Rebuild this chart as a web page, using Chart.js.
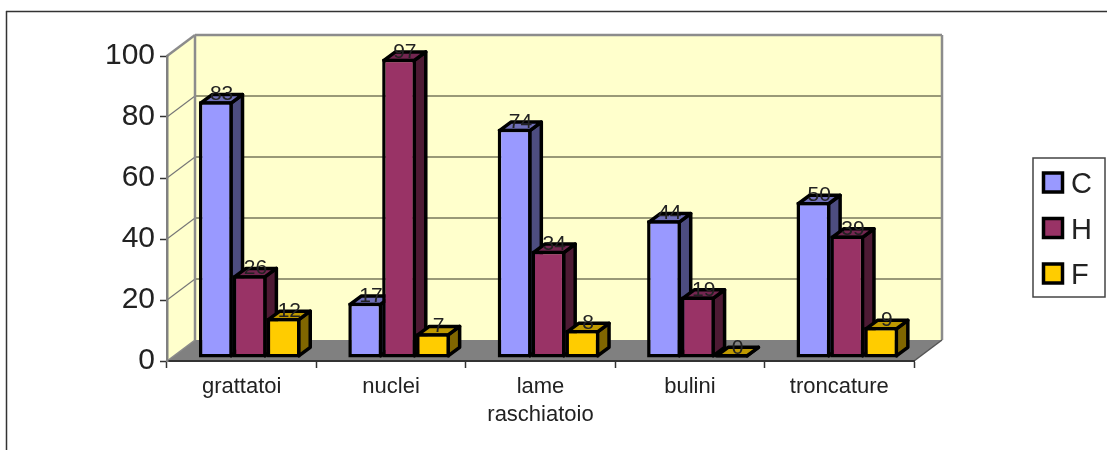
<!DOCTYPE html>
<html lang="it">
<head>
  <meta charset="UTF-8">
  <title>Strumenti C H F</title>
  <style>
    html, body { margin: 0; padding: 0; background: #ffffff; }
    canvas { display: block; }
  </style>
</head>
<body>
  <canvas id="chart" width="1107" height="450"></canvas>

  <script src="https://cdn.jsdelivr.net/npm/chart.js"></script>
  <script>
    const categories = ['grattatoi', 'nuclei', ['lame', 'raschiatoio'], 'bulini', 'troncature'];
    const seriesNames = ['C', 'H', 'F'];
    const valuesC = [83, 17, 74, 44, 50];
    const valuesH = [26, 97, 34, 19, 39];
    const valuesF = [12, 7, 8, 0, 9];
    const yTicks = [0, 20, 40, 60, 80, 100];

    const frontColors = ['#9999ff', '#993366', '#ffcc00'];
    const topColors = ['#6f6fb8', '#732650', '#bf9900'];
    const sideColors = ['#4d4d80', '#4d1a33', '#806600'];

    // depth of the back wall and of one bar, in pixels
    const wall = { dx: 28, dy: -21 };
    const barShift = { dx: 8, dy: -6.5 };
    const barDepth = { dx: 11.5, dy: -8.5 };
    const barLine = 3.5;
    const legendBox = { left: 1033, top: 158, width: 72, height: 139 };
    const legendSwatchTops = [173, 218.5, 264];
    const font = 'Arial, "Liberation Sans", sans-serif';
    const textColor = '#222222';

    function poly(ctx, pts, fill, stroke, lw) {
      ctx.beginPath();
      pts.forEach((p, i) => i ? ctx.lineTo(p[0], p[1]) : ctx.moveTo(p[0], p[1]));
      ctx.closePath();
      if (fill) { ctx.fillStyle = fill; ctx.fill(); }
      if (stroke) { ctx.strokeStyle = stroke; ctx.lineWidth = lw; ctx.lineJoin = 'round'; ctx.stroke(); }
    }

    function line(ctx, x1, y1, x2, y2, color, lw) {
      ctx.beginPath();
      ctx.moveTo(x1, y1);
      ctx.lineTo(x2, y2);
      ctx.strokeStyle = color;
      ctx.lineWidth = lw;
      ctx.stroke();
    }

    // page frame, yellow walls, grey floor, grid lines
    const roomPlugin = {
      id: 'room',
      beforeDraw(chart) {
        const ctx = chart.ctx;
        const a = chart.chartArea;
        const y = chart.scales.y;
        const d = wall;
        ctx.save();

        line(ctx, 6, 11.5, 1107, 11.5, '#333333', 1.5);
        line(ctx, 6.5, 11, 6.5, 450, '#333333', 1.5);

        poly(ctx, [[a.left + d.dx, a.top + d.dy], [a.right + d.dx, a.top + d.dy],
          [a.right + d.dx, a.bottom + d.dy], [a.left + d.dx, a.bottom + d.dy]], '#ffffcc');
        poly(ctx, [[a.left, a.top], [a.left + d.dx, a.top + d.dy],
          [a.left + d.dx, a.bottom + d.dy], [a.left, a.bottom]], '#ffffcc');
        poly(ctx, [[a.left, a.bottom], [a.left + d.dx, a.bottom + d.dy],
          [a.right + d.dx, a.bottom + d.dy], [a.right, a.bottom]], '#808080');

        yTicks.slice(1, -1).forEach(v => {
          const py = y.getPixelForValue(v);
          line(ctx, a.left, py, a.left + d.dx, py + d.dy, '#777777', 1.2);
          line(ctx, a.left + d.dx, py + d.dy, a.right + d.dx, py + d.dy, '#999977', 2);
        });

        const edge = '#8c8c8c';
        line(ctx, a.left, a.top, a.left + d.dx, a.top + d.dy, edge, 2.5);
        line(ctx, a.left + d.dx, a.top + d.dy, a.right + d.dx, a.top + d.dy, edge, 2.5);
        line(ctx, a.right + d.dx, a.top + d.dy, a.right + d.dx, a.bottom + d.dy, edge, 2.5);
        line(ctx, a.left + d.dx, a.top + d.dy, a.left + d.dx, a.bottom + d.dy, edge, 2.5);
        line(ctx, a.left, a.bottom, a.left + d.dx, a.bottom + d.dy, edge, 1.5);
        line(ctx, a.right, a.bottom, a.right + d.dx, a.bottom + d.dy, '#555555', 1.5);
        ctx.restore();
      },
      // boxed legend, the built-in one can't sit this far from the plot nor keep this text gap
      afterDraw(chart) {
        const ctx = chart.ctx;
        const box = legendBox;
        ctx.save();
        ctx.strokeStyle = '#444444';
        ctx.lineWidth = 1.5;
        ctx.strokeRect(box.left, box.top, box.width, box.height);
        ctx.font = '29px ' + font;
        ctx.textBaseline = 'alphabetic';
        chart.data.datasets.forEach((ds, i) => {
          const top = legendSwatchTops[i];
          ctx.fillStyle = ds.backgroundColor;
          ctx.fillRect(box.left + 10.5, top, 19, 19);
          ctx.strokeStyle = '#000000';
          ctx.lineWidth = 3.5;
          ctx.strokeRect(box.left + 10.5, top, 19, 19);
          ctx.fillStyle = textColor;
          ctx.fillText(ds.label, box.left + 38, top + 20);
        });
        ctx.restore();
      }
    };

    // the bars stand in the middle of the room: move them back and give them sides and tops.
    // Sides and tops go first, series by series, so the fronts cover them where they touch.
    const extrudePlugin = {
      id: 'extrude',
      beforeDatasetsDraw(chart) {
        const ctx = chart.ctx;
        const dx = barDepth.dx;
        const dy = barDepth.dy;
        const half = barLine / 2;
        ctx.save();
        ctx.translate(barShift.dx, barShift.dy);
        chart.data.datasets.forEach((ds, i) => {
          chart.getDatasetMeta(i).data.forEach(bar => {
            const p = bar.getProps(['x', 'y', 'base', 'width'], true);
            const l = p.x - p.width / 2 + half;
            const r = p.x + p.width / 2 - half;
            const b = p.base - half;
            const t = Math.min(p.y + half, b);
            poly(ctx, [[r, t], [r + dx, t + dy], [r + dx, b + dy], [r, b]], sideColors[i], '#000000', barLine);
            poly(ctx, [[l, t], [l + dx, t + dy], [r + dx, t + dy], [r, t]], topColors[i], '#000000', barLine);
          });
        });
      },
      afterDatasetsDraw(chart) {
        const ctx = chart.ctx;
        ctx.restore();
        ctx.save();
        ctx.font = '21px ' + font;
        ctx.fillStyle = textColor;
        ctx.textAlign = 'center';
        ctx.textBaseline = 'alphabetic';
        chart.data.datasets.forEach((ds, i) => {
          chart.getDatasetMeta(i).data.forEach((bar, j) => {
            const p = bar.getProps(['x', 'y'], true);
            ctx.fillText(String(ds.data[j]), p.x + barShift.dx + barDepth.dx / 2, p.y + barShift.dy - 1);
          });
        });
        ctx.restore();
      }
    };

    const seriesValues = [valuesC, valuesH, valuesF];

    new Chart(document.getElementById('chart'), {
      type: 'bar',
      data: {
        labels: categories,
        datasets: seriesNames.map((name, i) => ({
          label: name,
          data: seriesValues[i],
          backgroundColor: frontColors[i],
          borderColor: '#000000',
          borderWidth: barLine,
          borderSkipped: false,
          base: -1,   // the outline sits just under the zero line of the bar plane
          clip: false
        }))
      },
      options: {
        responsive: false,
        animation: false,
        categoryPercentage: 0.68,
        barPercentage: 1,
        layout: { padding: { left: 0, right: 193, top: 56, bottom: 0 } },
        scales: {
          x: {
            afterFit(scale) { scale.height = 89; },
            grid: { drawOnChartArea: false, tickColor: '#333333', tickWidth: 1.5, tickLength: 7 },
            border: { color: '#333333', width: 2 },
            ticks: {
              color: textColor,
              padding: 5,
              maxRotation: 0,
              autoSkip: false,
              font: { family: font, size: 22, lineHeight: 1.27 }
            }
          },
          y: {
            min: 0,
            max: 100,
            afterFit(scale) { scale.width = 167; },
            afterBuildTicks(scale) { scale.ticks = yTicks.map(v => ({ value: v })); },
            grid: { drawOnChartArea: false, tickColor: '#333333', tickWidth: 1.5, tickLength: 7 },
            border: { color: '#808080', width: 2.5 },
            ticks: {
              color: textColor,
              padding: 5,
              font: { family: font, size: 30 }
            }
          }
        },
        plugins: {
          tooltip: { enabled: false },
          legend: { display: false }
        }
      },
      plugins: [roomPlugin, extrudePlugin]
    });
  </script>
</body>
</html>
